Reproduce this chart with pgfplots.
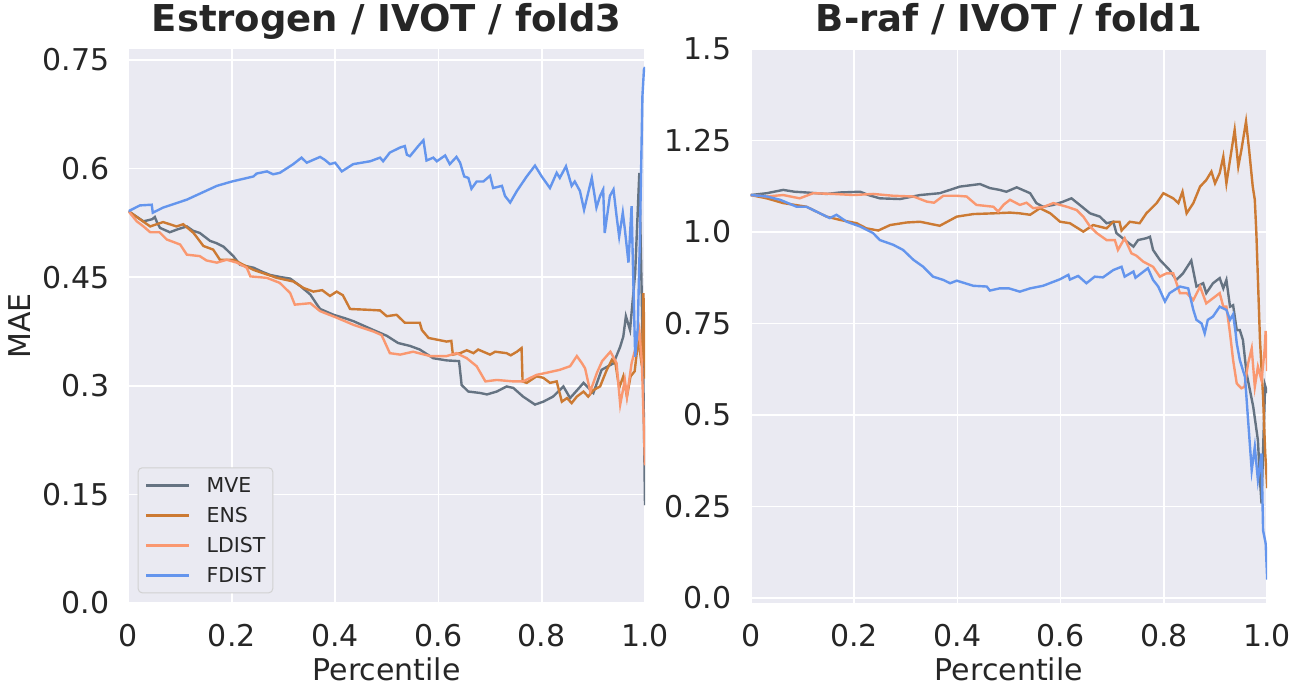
\documentclass[border=0pt]{standalone}
\usepackage{pgfplots}
\pgfplotsset{compat=1.18}
\usepackage{fontspec}
\setmainfont{DejaVu Sans}
\setsansfont{DejaVu Sans}
\definecolor{bgc}{HTML}{EAEAF2}
\definecolor{txt}{HTML}{262626}
\definecolor{cMVE}{RGB}{101,115,130}
\definecolor{cENS}{RGB}{204,122,51}
\definecolor{cLD}{RGB}{250,152,112}
\definecolor{cFD}{RGB}{100,149,237}
\pgfplotsset{
  panel/.style={
    scale only axis, width=516.5bp, height=554bp,
    xmin=0, xmax=1,
    axis background/.style={fill=bgc},
    axis line style={draw=none},
    major tick length=0pt,
    grid=major,
    major grid style={white, line width=1.6bp},
    tick label style={font=\fontsize{30bp}{36bp}\selectfont, text=txt, inner sep=0pt},
    xtick={0,0.2,0.4,0.6,0.8,1},
    xticklabels={0,0.2,0.4,0.6,0.8,1.0},
    xticklabel style={anchor=north, yshift=-21bp},
    yticklabel style={anchor=east, xshift=-19bp},
    label style={font=\fontsize{30bp}{36bp}\selectfont, text=txt},
    xlabel={Percentile},
    xlabel style={at={(axis description cs:0.5,-0.139)}, anchor=base},
    title style={font=\fontsize{37bp}{44bp}\selectfont\bfseries, text=txt, at={(axis description cs:0.5,1.0217)}, anchor=base},
    every axis plot/.append style={line width=2.4bp},
  }
}
\begin{document}
\begin{tikzpicture}
\path[use as bounding box] (0bp,0bp) rectangle (1298bp,-691bp);
\begin{axis}[panel, at={(128.5bp,-603bp)}, anchor=south west,
  ymin=0, ymax=0.765,
  ytick={0,0.15,0.3,0.45,0.6,0.75},
  yticklabels={0.0,0.15,0.3,0.45,0.6,0.75},
  ylabel={MAE},
  ylabel style={at={(axis description cs:-0.1888,0.5)}, anchor=base},
  title={Estrogen / IVOT / fold3},
  legend cell align=left,
  legend image code/.code={\draw[#1] (0bp,0bp) -- (43bp,0bp);},
  legend style={at={(axis description cs:0.0178,0.0175)}, anchor=south west,
    fill=bgc, draw=black!18, rounded corners=4bp, line width=1bp,
    font=\fontsize{20.5bp}{24bp}\selectfont, text=txt,
    inner xsep=7bp, inner ysep=10bp, row sep=15bp, column sep=16bp,
    nodes={inner sep=0bp, text height=15bp, text depth=0bp}},
]
\addplot[cMVE] coordinates {(0,0.541)(0.029,0.527)(0.046,0.530)(0.051,0.533)(0.055,0.526)(0.061,0.518)(0.080,0.512)(0.095,0.516)(0.113,0.520)(0.125,0.514)(0.138,0.511)(0.158,0.500)(0.170,0.497)(0.184,0.492)(0.203,0.479)(0.216,0.467)(0.242,0.463)(0.260,0.457)(0.274,0.453)(0.295,0.450)(0.313,0.448)(0.332,0.438)(0.352,0.426)(0.365,0.412)(0.371,0.406)(0.397,0.398)(0.420,0.393)(0.436,0.389)(0.455,0.383)(0.474,0.377)(0.500,0.369)(0.522,0.359)(0.545,0.355)(0.564,0.350)(0.590,0.338)(0.616,0.335)(0.640,0.334)(0.645,0.301)(0.658,0.292)(0.681,0.290)(0.694,0.288)(0.713,0.292)(0.732,0.299)(0.745,0.297)(0.764,0.285)(0.787,0.274)(0.803,0.278)(0.822,0.285)(0.842,0.299)(0.855,0.283)(0.870,0.295)(0.881,0.304)(0.900,0.290)(0.916,0.322)(0.939,0.331)(0.952,0.354)(0.958,0.368)(0.963,0.396)(0.971,0.377)(0.981,0.456)(0.989,0.594)(0.993,0.45)(0.997,0.30)(1.0,0.135)};
\addlegendentry{MVE}
\addplot[cENS] coordinates {(0,0.541)(0.022,0.530)(0.042,0.520)(0.067,0.526)(0.093,0.520)(0.106,0.523)(0.126,0.511)(0.145,0.493)(0.164,0.488)(0.177,0.474)(0.203,0.474)(0.242,0.460)(0.287,0.449)(0.319,0.444)(0.339,0.435)(0.358,0.430)(0.375,0.432)(0.390,0.424)(0.403,0.430)(0.415,0.425)(0.429,0.406)(0.461,0.405)(0.487,0.404)(0.500,0.396)(0.519,0.398)(0.535,0.387)(0.564,0.387)(0.568,0.377)(0.581,0.366)(0.616,0.361)(0.625,0.362)(0.628,0.343)(0.642,0.345)(0.655,0.349)(0.668,0.345)(0.677,0.350)(0.700,0.343)(0.710,0.347)(0.732,0.345)(0.740,0.342)(0.752,0.347)(0.761,0.352)(0.763,0.306)(0.771,0.304)(0.790,0.313)(0.803,0.311)(0.816,0.304)(0.829,0.306)(0.839,0.278)(0.849,0.283)(0.858,0.276)(0.868,0.285)(0.881,0.292)(0.890,0.285)(0.900,0.294)(0.913,0.299)(0.926,0.322)(0.936,0.336)(0.943,0.330)(0.950,0.297)(0.958,0.313)(0.965,0.285)(0.972,0.313)(0.980,0.320)(0.987,0.364)(0.994,0.327)(0.997,0.428)(1.0,0.31)};
\addlegendentry{ENS}
\addplot[cLD] coordinates {(0,0.541)(0.016,0.527)(0.029,0.520)(0.042,0.512)(0.060,0.512)(0.074,0.502)(0.100,0.495)(0.113,0.481)(0.138,0.479)(0.151,0.473)(0.171,0.470)(0.190,0.474)(0.210,0.470)(0.229,0.463)(0.236,0.451)(0.268,0.449)(0.293,0.442)(0.313,0.428)(0.322,0.412)(0.352,0.414)(0.371,0.403)(0.403,0.394)(0.436,0.384)(0.474,0.375)(0.490,0.370)(0.506,0.345)(0.526,0.343)(0.551,0.347)(0.584,0.341)(0.616,0.341)(0.635,0.345)(0.655,0.338)(0.674,0.327)(0.691,0.306)(0.713,0.308)(0.745,0.306)(0.764,0.306)(0.790,0.315)(0.810,0.318)(0.835,0.322)(0.855,0.327)(0.868,0.341)(0.878,0.331)(0.884,0.324)(0.894,0.292)(0.907,0.318)(0.917,0.334)(0.933,0.347)(0.940,0.338)(0.945,0.331)(0.952,0.274)(0.961,0.308)(0.965,0.285)(0.974,0.331)(0.981,0.350)(0.989,0.377)(0.994,0.331)(1.0,0.19)};
\addlegendentry{LDIST}
\addplot[cFD] coordinates {(0,0.541)(0.022,0.549)(0.045,0.550)(0.047,0.539)(0.067,0.546)(0.113,0.557)(0.171,0.576)(0.200,0.582)(0.242,0.589)(0.248,0.593)(0.268,0.596)(0.280,0.592)(0.293,0.594)(0.319,0.606)(0.335,0.615)(0.345,0.608)(0.371,0.616)(0.380,0.612)(0.390,0.606)(0.400,0.608)(0.413,0.596)(0.435,0.606)(0.468,0.610)(0.487,0.615)(0.493,0.610)(0.506,0.622)(0.526,0.629)(0.535,0.631)(0.539,0.619)(0.545,0.617)(0.561,0.631)(0.571,0.639)(0.577,0.611)(0.590,0.615)(0.597,0.610)(0.613,0.618)(0.622,0.606)(0.635,0.616)(0.642,0.608)(0.650,0.589)(0.658,0.587)(0.664,0.572)(0.674,0.582)(0.687,0.582)(0.700,0.590)(0.706,0.573)(0.723,0.576)(0.729,0.562)(0.739,0.553)(0.752,0.569)(0.771,0.589)(0.787,0.604)(0.800,0.589)(0.816,0.573)(0.829,0.594)(0.835,0.587)(0.847,0.603)(0.858,0.576)(0.864,0.582)(0.874,0.569)(0.882,0.543)(0.897,0.587)(0.906,0.546)(0.913,0.562)(0.919,0.571)(0.922,0.511)(0.932,0.562)(0.939,0.571)(0.945,0.534)(0.950,0.506)(0.957,0.539)(0.961,0.516)(0.968,0.470)(0.974,0.548)(0.977,0.456)(0.981,0.340)(0.986,0.38)(0.990,0.50)(0.995,0.70)(0.998,0.737)(1.0,0.74)};
\addlegendentry{FDIST}
\end{axis}
\begin{axis}[panel, at={(750.7bp,-603bp)}, anchor=south west,
  ymin=-0.0137, ymax=1.5,
  ytick={0,0.25,0.5,0.75,1,1.25,1.5},
  yticklabels={0.0,0.25,0.5,0.75,1.0,1.25,1.5},
  title={B-raf / IVOT / fold1},
]
\addplot[cMVE] coordinates {(0,1.101)(0.031,1.106)(0.063,1.115)(0.085,1.110)(0.108,1.108)(0.147,1.104)(0.173,1.108)(0.212,1.110)(0.230,1.100)(0.250,1.092)(0.289,1.090)(0.328,1.101)(0.366,1.106)(0.405,1.124)(0.444,1.131)(0.463,1.120)(0.482,1.115)(0.495,1.110)(0.515,1.122)(0.541,1.106)(0.553,1.079)(0.566,1.069)(0.586,1.074)(0.605,1.083)(0.621,1.092)(0.637,1.074)(0.657,1.051)(0.676,1.042)(0.689,1.024)(0.702,1.028)(0.708,0.997)(0.728,0.974)(0.741,0.960)(0.750,0.978)(0.766,0.983)(0.773,0.987)(0.779,0.951)(0.792,0.924)(0.811,0.896)(0.824,0.869)(0.837,0.887)(0.853,0.922)(0.863,0.851)(0.876,0.860)(0.882,0.833)(0.895,0.860)(0.908,0.874)(0.915,0.846)(0.921,0.869)(0.928,0.796)(0.934,0.800)(0.941,0.732)(0.947,0.732)(0.953,0.705)(0.960,0.614)(0.973,0.522)(0.982,0.431)(0.986,0.322)(0.989,0.258)(0.993,0.45)(0.996,0.58)(1.0,0.56)};
\addplot[cENS] coordinates {(0,1.101)(0.031,1.092)(0.063,1.079)(0.108,1.069)(0.147,1.042)(0.173,1.033)(0.205,1.024)(0.224,1.010)(0.247,1.004)(0.270,1.019)(0.302,1.026)(0.328,1.028)(0.366,1.017)(0.399,1.042)(0.431,1.049)(0.470,1.051)(0.502,1.053)(0.521,1.051)(0.541,1.047)(0.560,1.065)(0.580,1.051)(0.599,1.028)(0.618,1.024)(0.644,1.001)(0.663,1.019)(0.689,1.010)(0.702,1.028)(0.714,1.028)(0.718,1.004)(0.734,1.028)(0.753,1.024)(0.766,1.051)(0.786,1.079)(0.799,1.106)(0.818,1.092)(0.828,1.079)(0.836,1.110)(0.844,1.051)(0.857,1.079)(0.870,1.124)(0.882,1.142)(0.892,1.165)(0.899,1.133)(0.908,1.161)(0.915,1.206)(0.921,1.133)(0.937,1.279)(0.944,1.179)(0.950,1.224)(0.959,1.302)(0.965,1.224)(0.972,1.124)(0.976,1.088)(0.979,0.997)(0.986,0.705)(0.990,0.60)(0.992,0.550)(0.996,0.40)(1.0,0.3)};
\addplot[cLD] coordinates {(0,1.101)(0.031,1.097)(0.063,1.101)(0.095,1.092)(0.121,1.106)(0.160,1.104)(0.199,1.101)(0.237,1.104)(0.276,1.099)(0.315,1.097)(0.341,1.083)(0.355,1.080)(0.373,1.099)(0.399,1.099)(0.418,1.097)(0.437,1.074)(0.470,1.069)(0.479,1.056)(0.490,1.075)(0.502,1.088)(0.521,1.074)(0.534,1.080)(0.547,1.065)(0.566,1.068)(0.586,1.079)(0.612,1.069)(0.631,1.060)(0.644,1.042)(0.657,1.015)(0.670,0.997)(0.689,0.978)(0.705,0.978)(0.711,0.951)(0.724,0.983)(0.737,0.942)(0.747,0.935)(0.760,0.919)(0.779,0.905)(0.792,0.878)(0.805,0.887)(0.818,0.887)(0.831,0.833)(0.844,0.833)(0.857,0.814)(0.870,0.851)(0.882,0.805)(0.895,0.819)(0.908,0.833)(0.915,0.796)(0.921,0.796)(0.928,0.723)(0.934,0.650)(0.941,0.586)(0.950,0.573)(0.956,0.577)(0.963,0.641)(0.970,0.682)(0.976,0.577)(0.982,0.632)(0.989,0.595)(0.995,0.677)(0.997,0.73)(1.0,0.62)};
\addplot[cFD] coordinates {(0,1.101)(0.031,1.097)(0.057,1.088)(0.089,1.069)(0.108,1.069)(0.134,1.051)(0.153,1.038)(0.166,1.047)(0.186,1.028)(0.212,1.015)(0.237,0.997)(0.250,0.978)(0.276,0.965)(0.295,0.951)(0.315,0.924)(0.334,0.905)(0.353,0.878)(0.373,0.869)(0.386,0.860)(0.399,0.867)(0.431,0.853)(0.457,0.851)(0.463,0.840)(0.482,0.846)(0.500,0.846)(0.521,0.837)(0.541,0.846)(0.566,0.853)(0.599,0.871)(0.615,0.883)(0.618,0.870)(0.634,0.880)(0.650,0.860)(0.666,0.878)(0.682,0.876)(0.702,0.896)(0.718,0.905)(0.724,0.878)(0.741,0.892)(0.745,0.875)(0.769,0.901)(0.779,0.869)(0.789,0.851)(0.802,0.810)(0.811,0.833)(0.831,0.851)(0.847,0.846)(0.857,0.787)(0.863,0.760)(0.873,0.750)(0.879,0.723)(0.885,0.760)(0.895,0.769)(0.908,0.796)(0.921,0.787)(0.928,0.760)(0.934,0.775)(0.939,0.723)(0.941,0.696)(0.947,0.650)(0.957,0.604)(0.963,0.486)(0.970,0.349)(0.976,0.413)(0.982,0.322)(0.989,0.395)(0.992,0.185)(0.997,0.149)(1.0,0.05)};
\end{axis}
\end{tikzpicture}
\end{document}
